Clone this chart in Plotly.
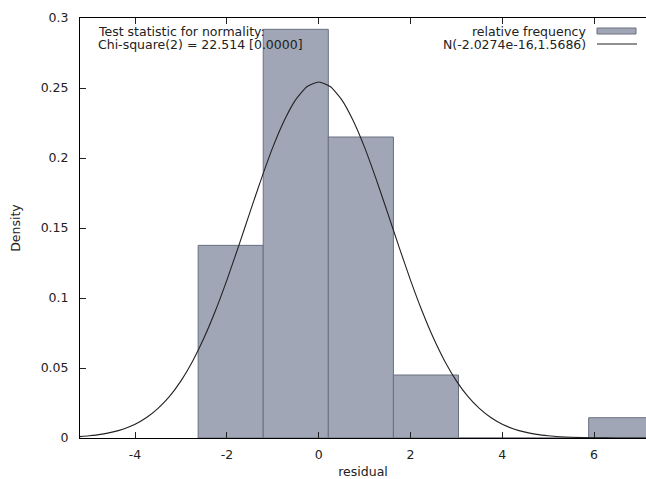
import plotly.graph_objects as go

# Histogram of residuals (relative frequency density)
bin_centers = [-1.917, -0.499, 0.919, 2.337, 3.755, 5.173, 6.591]
bin_width = 1.418
rel_freq = [0.1376, 0.2919, 0.2150, 0.0450, 0.0, 0.0, 0.0145]

# Fitted normal density
curve_x = [-5.2, -5.0, -4.75, -4.5, -4.25, -4.0, -3.75, -3.5, -3.25, -3.0, -2.75, -2.5, -2.25,
           -2.0, -1.75, -1.5, -1.25, -1.0, -0.75, -0.5, -0.25, 0.0,
           0.25, 0.5, 0.75, 1.0, 1.25, 1.5, 1.75, 2.0, 2.25, 2.5, 2.75, 3.0, 3.25, 3.5,
           3.75, 4.0, 4.25, 4.5, 4.75, 5.0, 5.25, 5.5, 6.0, 6.5, 7.0, 7.4]
curve_y = [0.0010, 0.0016, 0.0026, 0.0042, 0.0065, 0.0098, 0.0146, 0.0211, 0.0297, 0.0408, 0.0547, 0.0714, 0.0909,
           0.1128, 0.1365, 0.1610, 0.1851, 0.2076, 0.2268, 0.2417, 0.2511, 0.2543,
           0.2511, 0.2417, 0.2268, 0.2076, 0.1851, 0.1610, 0.1365, 0.1128, 0.0909, 0.0714, 0.0547, 0.0408, 0.0297, 0.0211,
           0.0146, 0.0098, 0.0065, 0.0042, 0.0026, 0.0016, 0.0009, 0.0005, 0.0002, 0.0, 0.0, 0.0]

x_ticks = [-4, -2, 0, 2, 4, 6]
y_ticks = [0, 0.05, 0.1, 0.15, 0.2, 0.25, 0.3]
y_tick_labels = ["0", "0.05", "0.1", "0.15", "0.2", "0.25", "0.3"]

legend_labels = ["relative frequency", "N(-2.0274e-16,1.5686)"]
stat_lines = ["Test statistic for normality:", "Chi-square(2) = 22.514 [0.0000]"]

FONT = "DejaVu Sans"
FS = 12.5
FILL = "#a0a6b6"
EDGE = "#6a7080"
TXT = "#222222"

# figure fills the window; the plot area runs to (and past) the right edge, as in the reference
W, H = 646, 479
ML, MT, MB, MR = 80, 18, 41, 0
PW, PH = W - ML - MR, H - MT - MB
X0 = -5.2
X1 = X0 + PW / 45.9  # 45.9 px per unit, as in the reference


def px(x):  # window x pixel -> paper
    return (x - ML) / PW


def py(y):  # window y pixel -> paper
    return 1 - (y - MT) / PH


fig = go.Figure()
fig.add_trace(go.Bar(
    x=bin_centers, y=rel_freq, width=[bin_width] * len(bin_centers),
    marker=dict(color=FILL, line=dict(color=EDGE, width=1)),
    showlegend=False, hoverinfo="skip",
))
fig.add_trace(go.Scatter(
    x=curve_x, y=curve_y, mode="lines",
    line=dict(color=TXT, width=1.1, shape="spline", smoothing=0.6),
    showlegend=False, hoverinfo="skip",
))

fig.update_layout(
    width=W, height=H,
    margin=dict(l=ML, r=MR, t=MT, b=MB),
    paper_bgcolor="white", plot_bgcolor="white",
    font=dict(family=FONT, size=FS, color=TXT),
    bargap=0,
    xaxis=dict(
        range=[X0, X1], tickvals=x_ticks, ticktext=[str(v) for v in x_ticks],
        ticks="inside", ticklen=6, tickcolor=TXT, showline=True, linecolor="#000000",
        linewidth=1, mirror="ticks", showgrid=False, zeroline=False,
        title=dict(text="residual", standoff=7, font=dict(size=FS)),
        ticklabelstandoff=5, tickfont=dict(size=FS),
    ),
    yaxis=dict(
        range=[0, 0.3], tickvals=y_ticks, ticktext=y_tick_labels,
        ticks="inside", ticklen=6, tickcolor=TXT, showline=True, linecolor="#000000",
        linewidth=1, mirror=False, showgrid=False, zeroline=False,
        title=dict(text="Density", standoff=17, font=dict(size=FS)),
        ticklabelstandoff=8, tickfont=dict(size=FS),
    ),
)

# Top-left statistic text
for i, t in enumerate(stat_lines):
    fig.add_annotation(
        xref="paper", yref="paper", x=px(96), y=py(31 + 13 * i),
        text=t, showarrow=False, xanchor="left", yanchor="middle",
        font=dict(family=FONT, size=FS, color=TXT),
    )

# Gnuplot-style key (text right-aligned, sample to the right)
for i, t in enumerate(legend_labels):
    fig.add_annotation(
        xref="paper", yref="paper", x=px(588), y=py(31 + 13 * i),
        text=t, showarrow=False, xanchor="right", yanchor="middle",
        font=dict(family=FONT, size=FS, color=TXT),
    )
fig.add_shape(type="rect", xref="paper", yref="paper",
              x0=px(597), x1=px(636), y0=py(34), y1=py(28),
              fillcolor=FILL, line=dict(color=EDGE, width=1))
fig.add_shape(type="line", xref="paper", yref="paper",
              x0=px(597), x1=px(637), y0=py(44), y1=py(44),
              line=dict(color=TXT, width=1))

fig.write_html(
    "out.html",
    config={"displayModeBar": False, "staticPlot": True},
    post_script="document.body.style.margin='0';document.body.style.overflow='hidden';",
)
